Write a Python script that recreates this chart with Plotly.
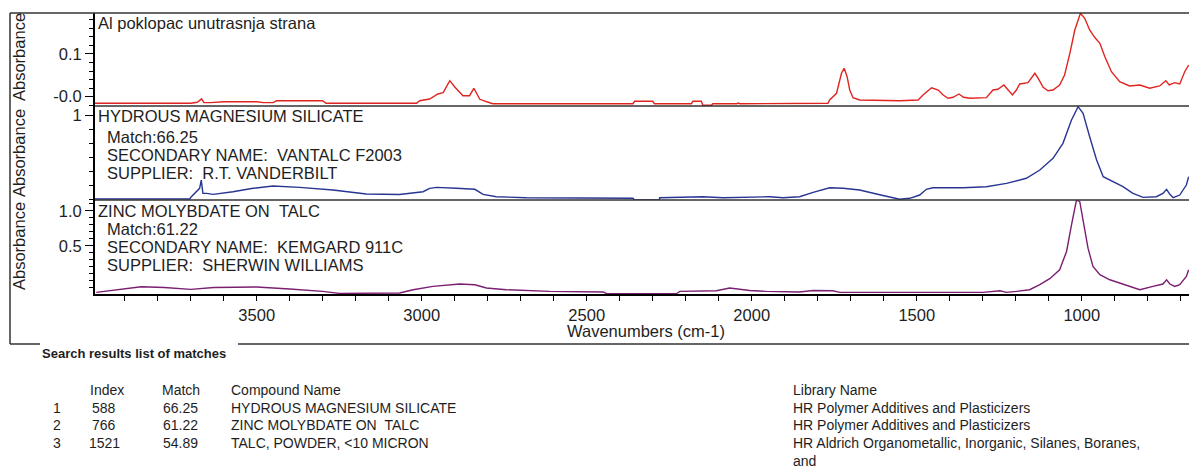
import plotly.graph_objects as go

# ---------------- data ----------------
# (wavenumber cm-1, absorbance)
sample_points = [
    (3991, -0.0155), (3700, -0.0155), (3680, -0.013), (3667, -0.005), (3660, -0.014), (3640, -0.014),
    (3600, -0.0117), (3500, -0.0117), (3480, -0.014), (3450, -0.014), (3440, -0.0094), (3300, -0.0094),
    (3290, -0.0155), (3016, -0.0155), (3006, -0.0094), (2976, -0.0054), (2951, 0.0063), (2935, 0.0094),
    (2915, 0.0375), (2900, 0.0227), (2875, 0.0023), (2855, 0.0023), (2842, 0.0197), (2824, -0.0061),
    (2794, -0.0141), (2784, -0.0164), (2360, -0.0164), (2355, -0.0108), (2300, -0.0108), (2295, -0.0164),
    (2183, -0.0164), (2178, -0.0108), (2153, -0.0108), (2148, -0.0201), (2122, -0.0201), (2118, -0.0164),
    (2045, -0.0164), (2041, -0.0148), (2036, -0.0164), (1980, -0.0164), (1976, -0.0148), (1972, -0.0164),
    (1855, -0.0155), (1769, -0.0155), (1764, -0.0077), (1743, 0.008), (1728, 0.0548), (1720, 0.0665),
    (1711, 0.0468), (1703, 0.0157), (1693, -0.0023), (1673, -0.0077), (1552, -0.0094), (1496, -0.0077),
    (1481, 0.004), (1466, 0.014), (1455, 0.021), (1435, 0.0157), (1420, 0.004), (1405, -0.0037),
    (1390, -0.0014), (1372, 0.0063), (1358, -0.0014), (1339, -0.0037), (1289, -0.0023), (1269, 0.0157),
    (1254, 0.0173), (1236, 0.0274), (1223, 0.0157), (1210, 0.004), (1198, 0.0157), (1188, 0.0297),
    (1163, 0.0328), (1142, 0.0548), (1132, 0.0431), (1117, 0.022), (1102, 0.014), (1087, 0.0157),
    (1067, 0.0274), (1052, 0.0508), (1036, 0.1016), (1021, 0.1562), (1004, 0.1953), (991, 0.1836),
    (976, 0.1562), (961, 0.1391), (945, 0.1251), (930, 0.0937), (910, 0.0585), (885, 0.0351),
    (855, 0.0251), (824, 0.0274), (794, 0.0197), (764, 0.0251), (745, 0.0375), (735, 0.0274),
    (718, 0.0328), (703, 0.0297), (688, 0.0585), (676, 0.0742),
]

match1_points = [
    (3991, -0.2), (3703, -0.2), (3698, -0.167), (3673, -0.047), (3668, 0.071), (3663, -0.119),
    (3652, -0.119), (3632, -0.133), (3572, -0.096), (3511, -0.047), (3451, -0.014), (3370, -0.033),
    (3269, -0.071), (3168, -0.129), (3067, -0.135), (3026, -0.11), (2996, -0.096), (2976, -0.047),
    (2955, -0.033), (2895, -0.047), (2839, -0.061), (2814, -0.133), (2774, -0.167), (2683, -0.181),
    (2360, -0.19), (2355, -0.214), (2280, -0.214), (2279, -0.181), (2147, -0.167), (2087, -0.181),
    (1945, -0.167), (1905, -0.181), (1855, -0.167), (1814, -0.104), (1764, -0.039), (1723, -0.047),
    (1673, -0.071), (1622, -0.129), (1572, -0.181), (1552, -0.204), (1521, -0.19), (1491, -0.143),
    (1471, -0.061), (1451, -0.039), (1360, -0.039), (1289, -0.024), (1228, 0.024), (1168, 0.096),
    (1127, 0.214), (1087, 0.381), (1057, 0.596), (1031, 0.929), (1011, 1.119), (996, 1.024),
    (976, 0.69), (955, 0.357), (935, 0.119), (905, 0.047), (875, -0.024), (845, -0.119),
    (814, -0.176), (774, -0.167), (754, -0.119), (743, -0.061), (733, -0.133), (723, -0.181),
    (703, -0.143), (683, 0.0), (676, 0.119),
]

match2_points = [
    (3986, -0.167), (3900, -0.114), (3850, -0.086), (3780, -0.096), (3700, -0.124), (3630, -0.096),
    (3500, -0.09), (3400, -0.119), (3300, -0.153), (3250, -0.181), (3100, -0.181), (3067, -0.176),
    (3026, -0.129), (2966, -0.081), (2885, -0.047), (2839, -0.057), (2804, -0.104), (2744, -0.129),
    (2612, -0.153), (2450, -0.161), (2440, -0.186), (2228, -0.186), (2218, -0.153), (2107, -0.143),
    (2067, -0.104), (2006, -0.139), (1956, -0.153), (1855, -0.161), (1814, -0.139), (1754, -0.143),
    (1733, -0.167), (1299, -0.167), (1248, -0.143), (1228, -0.167), (1198, -0.153), (1158, -0.129),
    (1127, -0.057), (1097, 0.029), (1067, 0.157), (1046, 0.419), (1031, 0.8), (1016, 1.157),
    (1006, 1.133), (996, 0.847), (981, 0.467), (966, 0.204), (945, 0.086), (915, 0.014),
    (875, -0.047), (824, -0.129), (784, -0.081), (754, -0.047), (743, 0.014), (733, -0.047),
    (718, -0.081), (703, -0.057), (683, 0.061), (676, 0.157),
]

panel_titles = ["Al poklopac unutrasnja strana", "HYDROUS MAGNESIUM SILICATE", "ZINC MOLYBDATE ON  TALC"]
match1_info = ["Match:66.25", "SECONDARY NAME:  VANTALC F2003", "SUPPLIER:  R.T. VANDERBILT"]
match2_info = ["Match:61.22", "SECONDARY NAME:  KEMGARD 911C", "SUPPLIER:  SHERWIN WILLIAMS"]

x_tick_vals = [3500, 3000, 2500, 2000, 1500, 1000]
top_tick_vals = [0.0, 0.1]
top_tick_text = ["-0.0", "0.1"]
mid_tick_vals = [1]
mid_tick_text = ["1"]
bot_tick_vals = [0.5, 1.0]
bot_tick_text = ["0.5", "1.0"]

table_header = ["Index", "Match", "Compound Name", "Library Name"]
table_rank = ["1", "2", "3"]
table_index = ["588", "766", "1521"]
table_match = ["66.25", "61.22", "54.89"]
table_compound = ["HYDROUS MAGNESIUM SILICATE", "ZINC MOLYBDATE ON  TALC", "TALC, POWDER, <10 MICRON"]
table_library = ["HR Polymer Additives and Plasticizers", "HR Polymer Additives and Plasticizers",
                 "HR Aldrich Organometallic, Inorganic, Silanes, Boranes,"]

# ---------------- figure ----------------
W, H = 1189, 468
FONT = "Liberation Sans, Arial, Helvetica, sans-serif"
TXT = "#1e1e1e"


def px(x):
    return x / W


def py(y):
    return 1 - y / H


def nb(s):
    return s.replace("  ", " \u00a0")


fig = go.Figure()
for pts, color, yax in [(sample_points, "#e02420", "y3"),
                        (match1_points, "#283593", "y2"),
                        (match2_points, "#7b1f70", "y")]:
    fig.add_trace(go.Scatter(x=[p[0] for p in pts], y=[p[1] for p in pts], mode="lines",
                             line=dict(color=color, width=1.4), xaxis="x", yaxis=yax,
                             hoverinfo="skip", showlegend=False))

axis_common = dict(showgrid=False, zeroline=False, showline=True, linecolor="black", linewidth=2,
                   ticks="outside", tickcolor="black", tickwidth=1.2,
                   tickfont=dict(family=FONT, size=16.5, color=TXT))

fig.update_layout(
    width=W, height=H, margin=dict(l=0, r=0, t=0, b=0),
    paper_bgcolor="white", plot_bgcolor="white", showlegend=False,
    xaxis=dict(domain=[px(95), 1], range=[3990, 675], anchor="y", tickmode="array",
               tickvals=x_tick_vals, ticklen=5,
               minor=dict(tickmode="linear", tick0=0, dtick=100, ticks="outside", ticklen=5,
                          tickcolor="black", showgrid=False),
               **axis_common),
    yaxis=dict(domain=[py(294), py(200)], range=[-0.19, 1.157], anchor="x", tickmode="array",
               tickvals=bot_tick_vals, ticktext=bot_tick_text, ticklen=8,
               minor=dict(tickmode="linear", tick0=0, dtick=0.1, ticks="outside", ticklen=4,
                          tickcolor="black", showgrid=False),
               **axis_common),
    yaxis2=dict(domain=[py(200), py(106)], range=[-0.214, 1.129], anchor="x", tickmode="array",
                tickvals=mid_tick_vals, ticktext=mid_tick_text, ticklen=8,
                minor=dict(tickmode="linear", tick0=0, dtick=0.2, ticks="outside", ticklen=4,
                           tickcolor="black", showgrid=False),
                **axis_common),
    yaxis3=dict(domain=[py(106), py(13)], range=[-0.0218, 0.196], anchor="x", tickmode="array",
                tickvals=top_tick_vals, ticktext=top_tick_text, ticklen=8,
                minor=dict(tickmode="linear", tick0=0, dtick=0.02, ticks="outside", ticklen=4,
                           tickcolor="black", showgrid=False),
                **axis_common),
)

shapes = []
frame = dict(type="line", xref="paper", yref="paper", line=dict(color="#333333", width=1.5))
shapes.append(dict(frame, x0=px(10), x1=1, y0=py(13), y1=py(13)))
shapes.append(dict(frame, x0=px(95), x1=1, y0=py(106), y1=py(106)))
shapes.append(dict(frame, x0=px(95), x1=1, y0=py(200), y1=py(200)))
shapes.append(dict(frame, x0=px(10), x1=px(10), y0=py(13), y1=py(344)))
shapes.append(dict(frame, x0=px(10), x1=px(40), y0=py(344), y1=py(344)))
shapes.append(dict(frame, x0=px(238), x1=1, y0=py(344), y1=py(344)))
fig.update_layout(shapes=shapes)

ann = []


def text(x, y, s, size=16, anchor="left", bold=False, angle=0):
    ann.append(dict(x=px(x), y=py(y), xref="paper", yref="paper", text=(f"<b>{s}</b>" if bold else nb(s)),
                    showarrow=False, xanchor=anchor, yanchor="middle", textangle=angle,
                    font=dict(family=FONT, size=size, color=TXT)))


# y axis titles
for yc in [57, 153, 246]:
    text(19, yc, "Absorbance", size=16.5, anchor="center", angle=-90)

# panel labels
PS = 16.5
text(96, 23, panel_titles[0], size=PS)
text(96, 116, panel_titles[1], size=PS)
for i, s in enumerate(match1_info):
    text(105, [137, 155, 173][i], s, size=PS)
text(96, 211, panel_titles[2], size=PS)
for i, s in enumerate(match2_info):
    text(105, [229, 247, 265][i], s, size=PS)

# x axis title
text(646, 331, "Wavenumbers (cm-1)", size=16.5, anchor="center")

# search results table
text(40, 353, "Search results list of matches", size=13, bold=True)
TS = 14
text(88, 390, table_header[0], size=TS)
text(160, 390, table_header[1], size=TS)
text(229, 390, table_header[2], size=TS)
text(791, 390, table_header[3], size=TS)
for i in range(3):
    yy = [408, 425, 443][i]
    text(57, yy, table_rank[i], size=TS, anchor="center")
    text(104, yy, table_index[i], size=TS, anchor="center")
    text(161, yy, table_match[i], size=TS)
    text(229, yy, table_compound[i], size=TS)
    text(791, yy, table_library[i], size=TS)
text(791, 461, "and", size=TS)

fig.update_layout(annotations=ann)

fig.write_html("out.html", config={"displayModeBar": False},
               post_script="document.body.style.margin='0';document.body.style.overflow='hidden';")
